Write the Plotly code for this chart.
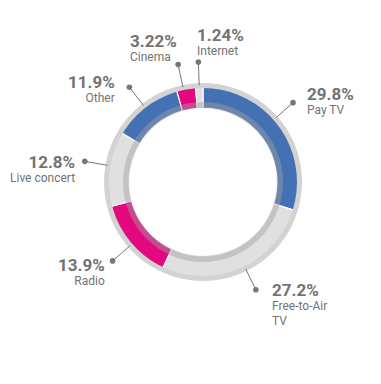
import math
import plotly.graph_objects as go

# ---- data ----
categories = ["Pay TV", "Free-to-Air TV", "Radio", "Live concert", "Other", "Cinema", "Internet"]
shares = [29.8, 27.2, 13.9, 12.8, 11.9, 3.22, 1.24]
pct_labels = ["29.8%", "27.2%", "13.9%", "12.8%", "11.9%", "3.22%", "1.24%"]
name_labels = ["Pay TV", "Free-to-Air<br>TV", "Radio", "Live concert", "Other", "Cinema", "Internet"]

# ---- style ----
OFF = 8                      # default page margin of the html body
W, H = 381 - OFF, 384 - OFF
CX, CY = 203 - OFF, 182 - OFF   # ring centre (figure px)
R_OUT, R_RIM, R_BAND, R_HOLE = 99, 94, 80, 74
R_DOT = 120
BLUE, GREY, PINK = "#4471b4", "#e0e0e0", "#e4087f"
seg_colors = [BLUE, GREY, PINK, GREY, BLUE, PINK, GREY]
TEXT = "#737373"

# label placement (angle nudge in degrees, xanchor, yanchor, dx, dy, align)
placement = [
    (-5.0, "left", "middle", 12, -2, "left"),
    (-2.3, "left", "top", 14, -12, "left"),
    (-1.2, "right", "top", -6, -8, "right"),
    (1.8, "right", "middle", -8, 7.5, "right"),
    (-0.4, "right", "middle", -12, 1, "right"),
    (-1.7, "right", "bottom", 1, 1, "left"),
    (0.0, "left", "bottom", -3, -2.5, "left"),
]


def dom(r):
    return dict(x=[(CX - r) / W, (CX + r) / W], y=[1 - (CY + r) / H, 1 - (CY - r) / H])


fig = go.Figure()
fig.add_trace(go.Pie(
    labels=categories, values=shares, sort=False, direction="clockwise", rotation=0,
    hole=R_HOLE / R_OUT, domain=dom(R_OUT),
    marker=dict(colors=seg_colors, line=dict(color="white", width=1.2)),
    textinfo="none", hoverinfo="label+percent", showlegend=False,
))
fig.add_trace(go.Pie(
    values=[1], hole=R_RIM / R_OUT, domain=dom(R_OUT), sort=False,
    marker=dict(colors=["#d3d3d3"], line=dict(width=0)),
    textinfo="none", hoverinfo="skip", showlegend=False,
))
fig.add_trace(go.Pie(
    values=[1], hole=R_HOLE / R_BAND, domain=dom(R_BAND), sort=False,
    marker=dict(colors=["rgba(160,160,160,0.45)"], line=dict(width=0)),
    textinfo="none", hoverinfo="skip", showlegend=False,
))

total = sum(shares)
shapes, annotations = [], []
cum = 0.0
for i, v in enumerate(shares):
    mid = (cum + v / 2) / total * 360.0
    cum += v
    nudge, xa, ya, dx, dy, al = placement[i]
    a = math.radians(mid + nudge)
    sx, sy = CX + (R_OUT - 2) * math.sin(a), CY - (R_OUT - 2) * math.cos(a)
    px, py = CX + R_DOT * math.sin(a), CY - R_DOT * math.cos(a)
    shapes.append(dict(type="line", xref="paper", yref="paper",
                       x0=sx / W, y0=1 - sy / H, x1=px / W, y1=1 - py / H,
                       line=dict(color="#777777", width=1)))
    rd = 2.8
    shapes.append(dict(type="circle", xref="paper", yref="paper",
                       x0=(px - rd) / W, x1=(px + rd) / W, y0=1 - (py + rd) / H, y1=1 - (py - rd) / H,
                       fillcolor="#777777", line=dict(width=0)))
    annotations.append(dict(
        xref="paper", yref="paper", x=(px + dx) / W, y=1 - (py + dy) / H,
        xanchor=xa, yanchor=ya, align=al, showarrow=False,
        text=(f"<span style='font-size:17px'><b>{pct_labels[i]}</b></span><br>"
              f"<span style='font-size:12px'>{name_labels[i].replace('<br>', '</span><br><span style=\"font-size:12px\">')}</span>"),
        font=dict(family="Roboto", size=11, color=TEXT),
    ))

fig.update_layout(
    width=W, height=H, margin=dict(l=0, r=0, t=0, b=0),
    paper_bgcolor="white", plot_bgcolor="white",
    shapes=shapes, annotations=annotations, showlegend=False,
)
fig.write_html("out.html")
